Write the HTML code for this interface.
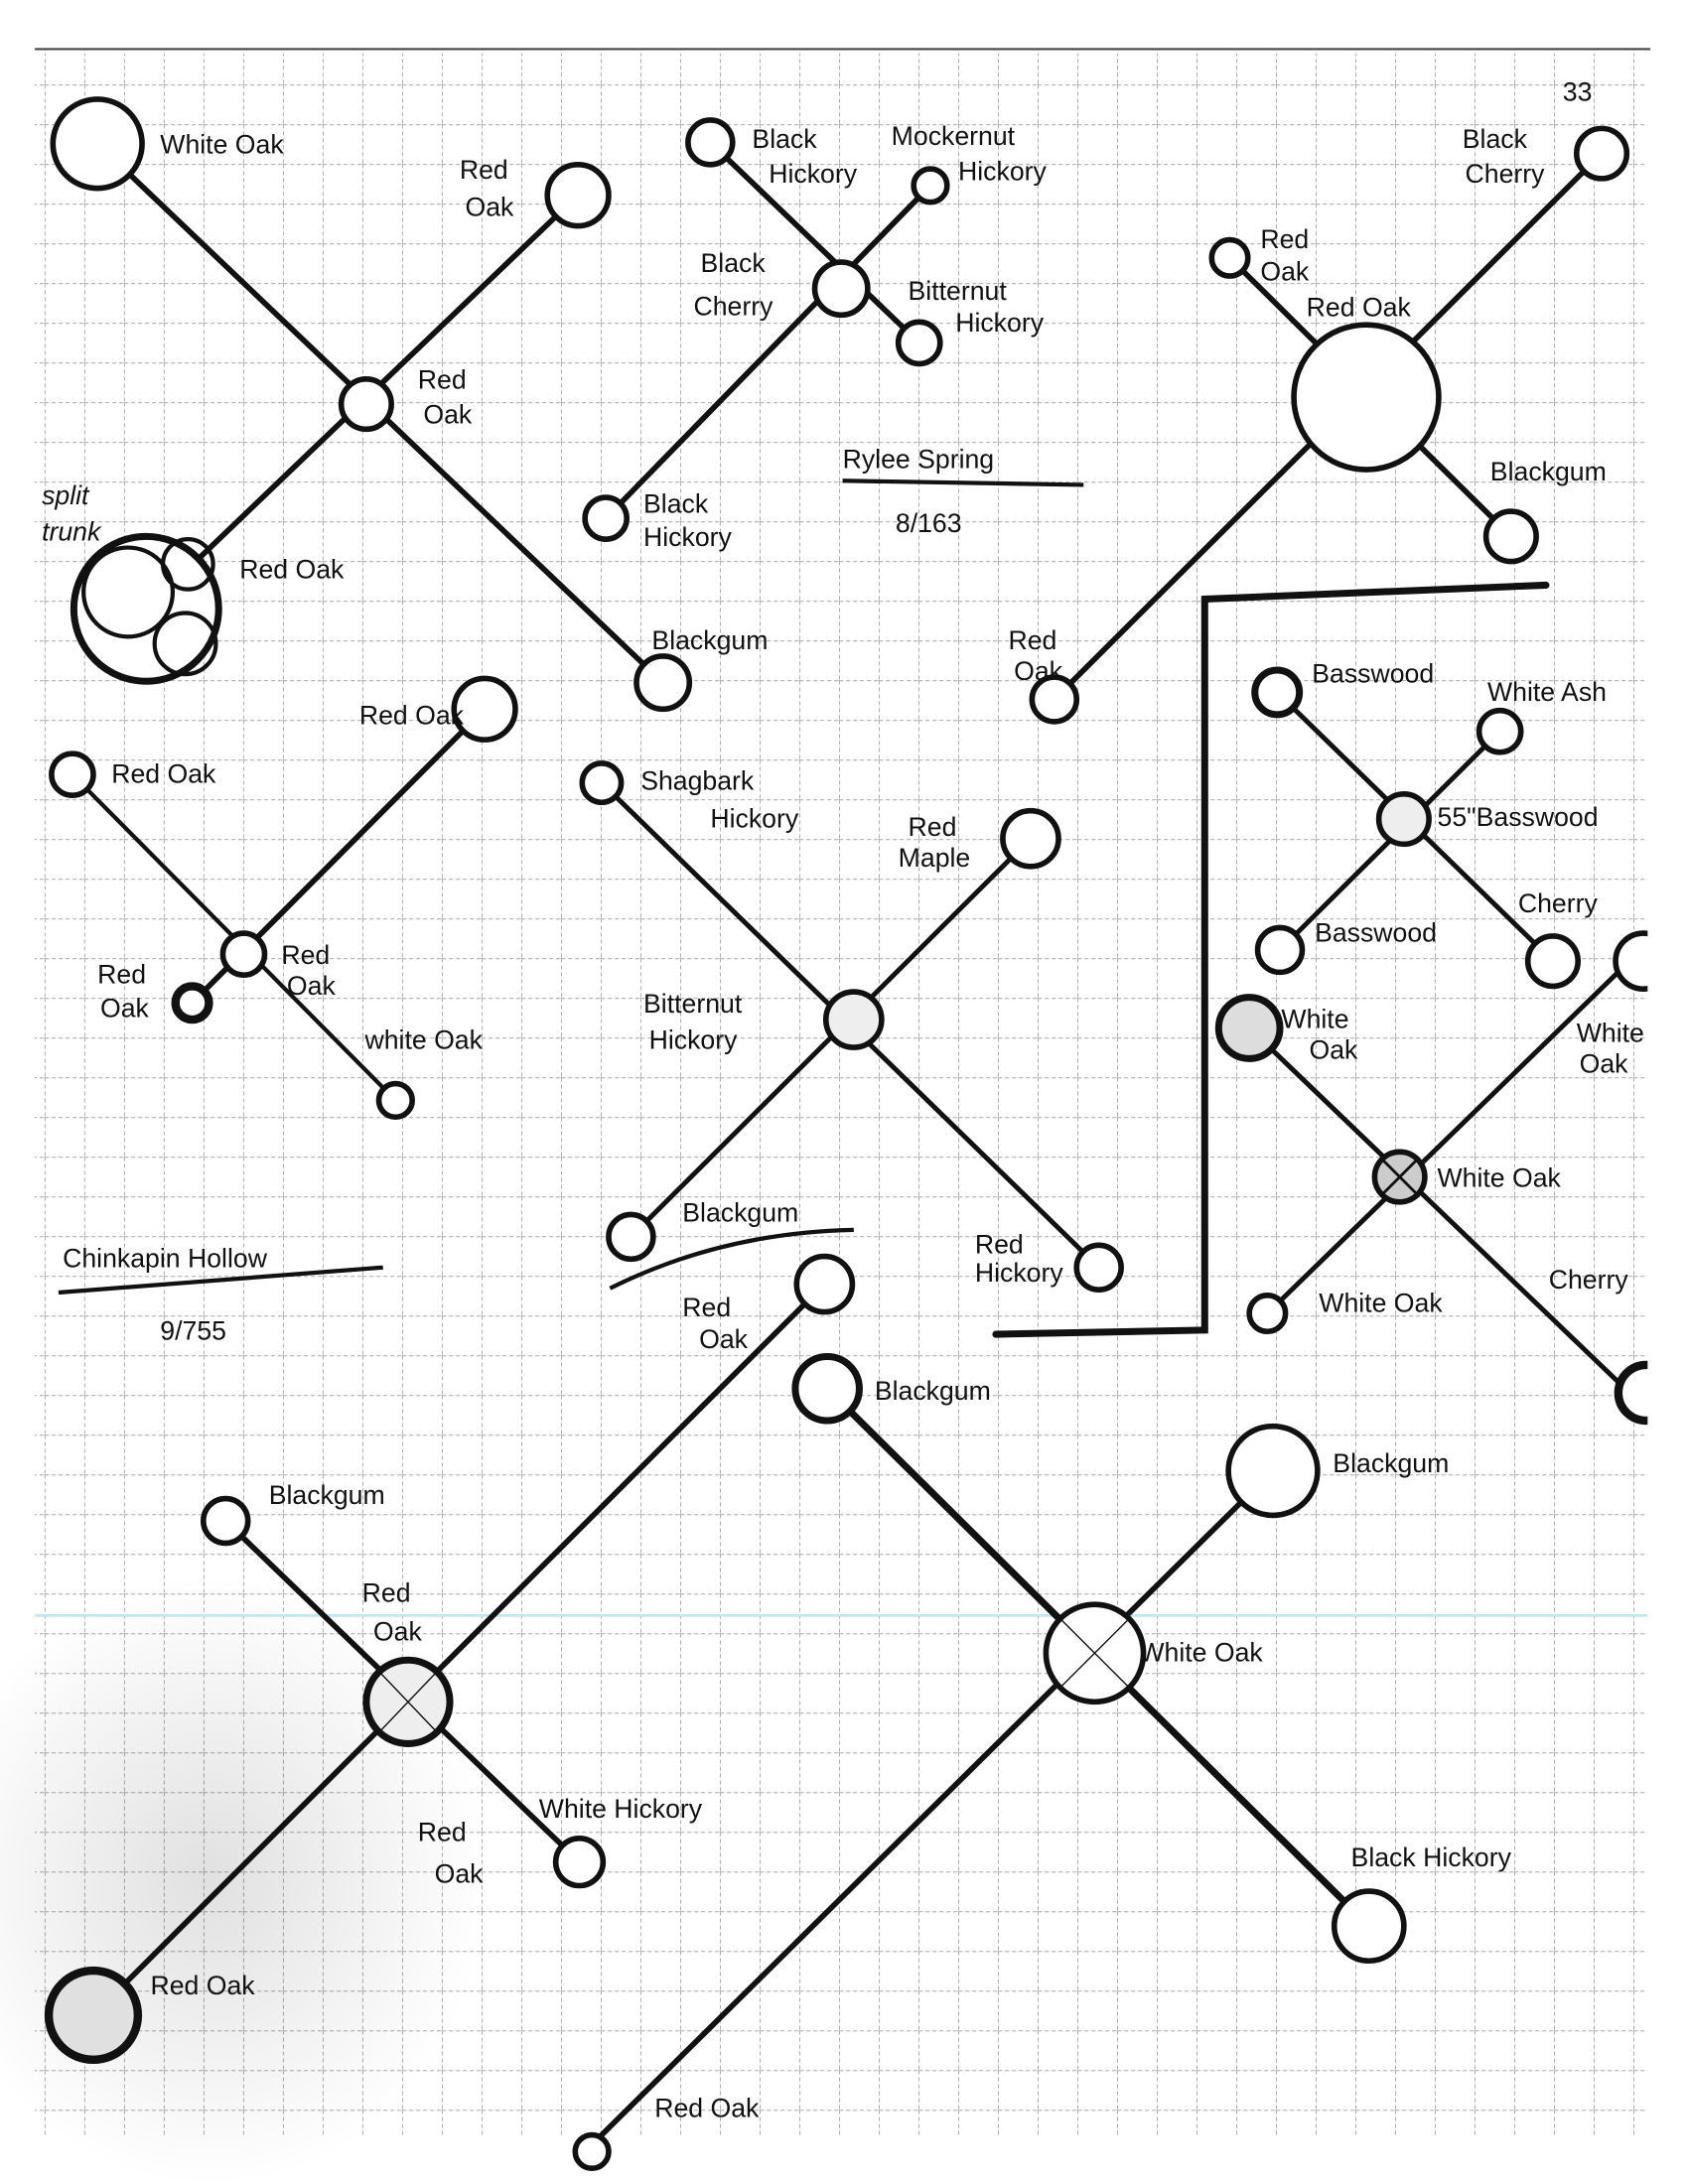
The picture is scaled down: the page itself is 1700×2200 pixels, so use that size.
<!DOCTYPE html>
<html><head><meta charset="utf-8"><style>
html,body{margin:0;padding:0;background:#fff;}
svg{display:block;}
text{font-family:"Liberation Sans",sans-serif;fill:#111;font-size:19px;}
</style></head><body>
<svg width="1700" height="2200" viewBox="0 0 1212 1568" xmlns="http://www.w3.org/2000/svg">
<defs>
<pattern id="g" x="3.5" y="3.5" width="28.52" height="28.52" patternUnits="userSpaceOnUse">
<path d="M0 0H28.52M0 0V28.52" stroke="#8a8a8a" stroke-width="1" stroke-dasharray="3 2" fill="none"/>
</pattern>
<radialGradient id="sp" cx="0.5" cy="0.5" r="0.5">
<stop offset="0" stop-color="#000" stop-opacity="0.12"/>
<stop offset="1" stop-color="#000" stop-opacity="0"/>
</radialGradient>
</defs>
<rect width="1212" height="1568" fill="#fff"/>
<rect x="25" y="38" width="1158" height="1495" fill="url(#g)"/>
<ellipse cx="150" cy="1350" rx="200" ry="220" fill="url(#sp)"/>
<line x1="25" y1="35" x2="1185" y2="35" stroke="#444" stroke-width="1.5"/>
<line x1="25" y1="1160" x2="1185" y2="1160" stroke="#bfe8ef" stroke-width="2"/>
<text x="1122" y="72" font-size="34">33</text>

<g stroke="#111" stroke-width="4" fill="none" stroke-linecap="round">
<line x1="70" y1="103" x2="476" y2="490"/>
<line x1="415" y1="140" x2="105" y2="437"/>
<line x1="510" y1="102" x2="660" y2="246"/>
<line x1="668" y1="133" x2="435" y2="372"/>
<line x1="1150" y1="110" x2="757" y2="502"/>
<line x1="883" y1="185" x2="1085" y2="385"/>
<path d="M1110 420 L865 430 L865 955 L715 958" stroke-width="5"/>
<line x1="52" y1="556" x2="284" y2="790" stroke-width="3"/>
<line x1="348" y1="509" x2="138" y2="720"/>
<line x1="432" y1="562" x2="789" y2="910" stroke-width="3.5"/>
<line x1="740" y1="602" x2="453" y2="888" stroke-width="3.5"/>
<line x1="917" y1="497" x2="1115" y2="690" stroke-width="3.5"/>
<line x1="1077" y1="525" x2="919" y2="682" stroke-width="3.5"/>
<line x1="897" y1="738" x2="1170" y2="1000" stroke-width="3.5"/>
<line x1="1170" y1="690" x2="910" y2="943" stroke-width="3.5"/>
<line x1="162" y1="1092" x2="416" y2="1337"/>
<line x1="592" y1="922" x2="67" y2="1447"/>
<line x1="594" y1="997" x2="983" y2="1383" stroke-width="5"/>
<line x1="914" y1="1056" x2="430" y2="1535"/>
</g>

<g stroke="#111" stroke-width="4" fill="#fff">
<circle cx="263" cy="290" r="18"/>
<circle cx="70" cy="103" r="32"/>
<circle cx="415" cy="140" r="22"/>
<circle cx="105" cy="437" r="52" stroke-width="5"/>
<circle cx="476" cy="490" r="19"/>
<circle cx="604" cy="207" r="19"/>
<circle cx="510" cy="102" r="16"/>
<circle cx="668" cy="133" r="12"/>
<circle cx="660" cy="246" r="15"/>
<circle cx="435" cy="372" r="15"/>
<circle cx="981" cy="285" r="52"/>
<circle cx="1150" cy="110" r="18"/>
<circle cx="883" cy="185" r="13"/>
<circle cx="1085" cy="385" r="18"/>
<circle cx="757" cy="502" r="16"/>
<circle cx="175" cy="685" r="15"/>
<circle cx="52" cy="556" r="15"/>
<circle cx="348" cy="509" r="22"/>
<circle cx="138" cy="720" r="12" stroke-width="6"/>
<circle cx="284" cy="790" r="12"/>
<circle cx="613" cy="732" r="20" fill="#eee"/>
<circle cx="432" cy="562" r="14"/>
<circle cx="740" cy="602" r="20"/>
<circle cx="453" cy="888" r="16"/>
<circle cx="789" cy="910" r="16"/>
<circle cx="1008" cy="588" r="18" fill="#eee"/>
<circle cx="917" cy="497" r="16" stroke-width="5"/>
<circle cx="1077" cy="525" r="15"/>
<circle cx="919" cy="682" r="16"/>
<circle cx="1115" cy="690" r="18"/>
<circle cx="1005" cy="845" r="18" fill="#ccc"/>
<circle cx="897" cy="738" r="22" stroke-width="5" fill="#ddd"/>
<circle cx="910" cy="943" r="13"/>
<circle cx="1180" cy="690" r="20"/>
<circle cx="1182" cy="1000" r="20" stroke-width="6"/>
<circle cx="293" cy="1222" r="30" fill="#eee" stroke-width="5"/>
<circle cx="162" cy="1092" r="16"/>
<circle cx="592" cy="922" r="20"/>
<circle cx="416" cy="1337" r="17"/>
<circle cx="67" cy="1447" r="32" stroke-width="6" fill="#e0e0e0"/>
<circle cx="786" cy="1187" r="35"/>
<circle cx="594" cy="997" r="23" stroke-width="5"/>
<circle cx="914" cy="1056" r="32"/>
<circle cx="983" cy="1383" r="25"/>
<circle cx="425" cy="1545" r="12"/>
</g>
<g stroke="#111" stroke-width="3" fill="none">
<circle cx="92" cy="425" r="32"/>
<circle cx="135" cy="405" r="18"/>
<circle cx="133" cy="462" r="22"/>
<line x1="272" y1="1200" x2="314" y2="1244" stroke-width="1"/><line x1="314" y1="1200" x2="272" y2="1244" stroke-width="1"/>
<line x1="762" y1="1163" x2="810" y2="1211" stroke-width="1"/><line x1="810" y1="1163" x2="762" y2="1211" stroke-width="1"/>
<line x1="993" y1="833" x2="1017" y2="857" stroke-width="2"/><line x1="1017" y1="833" x2="993" y2="857" stroke-width="2"/>
</g>
<rect x="1183" y="38" width="29" height="1530" fill="#fff"/>

<g>
<text x="115" y="110">White Oak</text>
<text x="330" y="128">Red</text><text x="334" y="155">Oak</text>
<text x="300" y="279">Red</text><text x="304" y="304">Oak</text>
<text x="30" y="362" font-style="italic">split</text><text x="30" y="388" font-style="italic">trunk</text>
<text x="172" y="415">Red Oak</text>
<text x="468" y="466">Blackgum</text>
<text x="540" y="106">Black</text><text x="552" y="131">Hickory</text>
<text x="640" y="104">Mockernut</text><text x="688" y="129">Hickory</text>
<text x="503" y="195">Black</text><text x="498" y="226">Cherry</text>
<text x="652" y="215">Bitternut</text><text x="686" y="238">Hickory</text>
<text x="462" y="368">Black</text><text x="462" y="392">Hickory</text>
<text x="605" y="336" font-size="24">Rylee Spring</text>
<line x1="605" y1="345" x2="778" y2="348" stroke="#111" stroke-width="3"/>
<text x="643" y="382" font-size="24">8/163</text>
<text x="1050" y="106">Black</text><text x="1052" y="131">Cherry</text>
<text x="905" y="178">Red</text><text x="905" y="201">Oak</text>
<text x="938" y="227">Red Oak</text>
<text x="1070" y="345">Blackgum</text>
<text x="724" y="466">Red</text><text x="728" y="488">Oak</text>
<text x="258" y="520">Red Oak</text>
<text x="80" y="562">Red Oak</text>
<text x="202" y="692">Red</text><text x="206" y="714">Oak</text>
<text x="70" y="706">Red</text><text x="72" y="730">Oak</text>
<text x="262" y="753" font-size="16">white Oak</text>
<text x="460" y="567">Shagbark</text><text x="510" y="594">Hickory</text>
<text x="652" y="600">Red</text><text x="645" y="622">Maple</text>
<text x="462" y="727">Bitternut</text><text x="466" y="753">Hickory</text>
<text x="490" y="877">Blackgum</text>
<path d="M438 925 q80 -40 175 -42" stroke="#111" stroke-width="3" fill="none"/>
<text x="700" y="900" font-size="16">Red</text><text x="700" y="920" font-size="16">Hickory</text>
<text x="45" y="910" font-size="24">Chinkapin Hollow</text>
<line x1="42" y1="928" x2="275" y2="910" stroke="#111" stroke-width="3"/>
<text x="115" y="962" font-size="26">9/755</text>
<text x="942" y="490">Basswood</text>
<text x="1068" y="503">White Ash</text>
<text x="1032" y="593">55"Basswood</text>
<text x="944" y="676">Basswood</text>
<text x="1090" y="655">Cherry</text>
<text x="920" y="738">White</text><text x="940" y="760">Oak</text>
<text x="1132" y="748" font-size="17">White</text><text x="1134" y="770" font-size="17">Oak</text>
<text x="1032" y="852">White Oak</text>
<text x="947" y="942">White Oak</text>
<text x="1112" y="925">Cherry</text>
<text x="490" y="945">Red</text><text x="502" y="968">Oak</text>
<text x="628" y="1005">Blackgum</text>
<text x="957" y="1057">Blackgum</text>
<text x="193" y="1080">Blackgum</text>
<text x="260" y="1150">Red</text><text x="268" y="1178">Oak</text>
<text x="818" y="1193">White Oak</text>
<text x="387" y="1305">White Hickory</text>
<text x="300" y="1322">Red</text><text x="312" y="1352">Oak</text>
<text x="970" y="1340">Black Hickory</text>
<text x="108" y="1432">Red Oak</text>
<text x="470" y="1520">Red Oak</text>
</g>
</svg>
</body></html>
